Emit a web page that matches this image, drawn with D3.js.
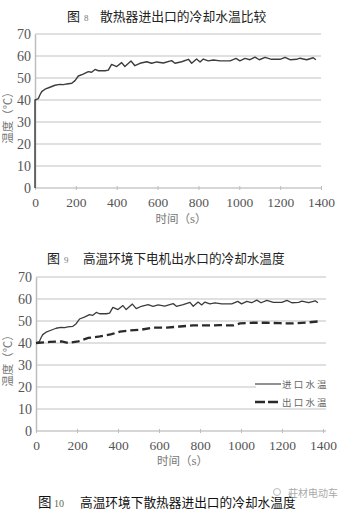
<!DOCTYPE html>
<html><head><meta charset="utf-8">
<script src="https://cdn.jsdelivr.net/npm/d3@7"></script>
<style>html,body{margin:0;padding:0;background:#fff;}svg{display:block;}
.serif{font-family:"Liberation Serif","Times New Roman",serif;}
.cjk{font-family:"Noto Sans CJK SC",sans-serif;}</style>
</head><body>
<svg id="c" width="350" height="510"></svg>
<script>
// ---- data ----
const xTicks = [0, 200, 400, 600, 800, 1000, 1200, 1400];
const yTicks = [0, 10, 20, 30, 40, 50, 60, 70];
const leadTime = [0];
const leadTemp = [0];
const inletTime = [0, 8, 16, 25, 33, 49, 73, 98, 122, 140, 155, 180, 196, 212, 236, 261, 277, 294, 310, 343, 359, 375, 400, 424, 440, 470, 489, 514, 547, 571, 596, 628, 669, 685, 718, 751, 767, 791, 808, 824, 848, 873, 906, 955, 984, 1003, 1028, 1052, 1077, 1098, 1126, 1158, 1199, 1224, 1248, 1281, 1297, 1330, 1362, 1375];
const inletTemp = [40, 40.3, 40.6, 42.5, 43.8, 44.9, 45.8, 46.7, 47.1, 47.0, 47.3, 47.6, 48.8, 50.9, 51.8, 52.9, 52.6, 53.9, 53.3, 53.3, 53.6, 56.2, 55.2, 57.0, 55.2, 57.7, 55.6, 56.7, 57.4, 56.7, 57.3, 56.8, 57.9, 56.7, 57.4, 58.5, 56.7, 58.6, 57.3, 58.6, 57.8, 58.2, 57.8, 57.8, 58.9, 57.8, 58.9, 58.3, 59.5, 58.3, 59.4, 58.5, 58.5, 59.4, 58.3, 58.5, 59.0, 58.3, 59.2, 58.3];
const outletTime = [0, 68, 125, 158, 206, 255, 312, 369, 410, 459, 516, 572, 637, 702, 767, 832, 898, 963, 995, 1060, 1125, 1190, 1255, 1320, 1377];
const outletTemp = [40, 40.5, 40.7, 40, 40.7, 42.3, 43, 44, 45.2, 45.7, 46.1, 47, 47, 47.5, 48, 48, 48.1, 48, 48.9, 49.2, 49.2, 49, 48.9, 49.3, 49.8];
const legendLabels = ["进口水温", "出口水温"];

const svg = d3.select("#c");
const zip = (t, v) => t.map((d, i) => [d, v[i]]);

function panel(box) {
  const x = d3.scaleLinear().domain([0, 1400]).range([box.l, box.r]);
  const y = d3.scaleLinear().domain([0, 70]).range([box.b, box.t]);
  const g = svg.append("g");
  g.append("g").selectAll("line").data(yTicks.filter(d => d > 0)).join("line")
    .attr("x1", box.l).attr("x2", box.r + box.ext)
    .attr("y1", d => y(d)).attr("y2", d => y(d))
    .attr("stroke", "#d6d6d6").attr("stroke-width", 1.6);
  const ya = g.append("g").attr("transform", `translate(${box.l},0)`)
    .call(d3.axisLeft(y).tickValues(yTicks).tickFormat(d3.format("d")).tickSize(0).tickPadding(4));
  ya.attr("font-family", null);
  ya.select(".domain").attr("stroke", "#bdbdbd").attr("stroke-width", 1.5);
  ya.selectAll("text").attr("class", "serif").style("font-size", "14px")
    .attr("fill", "#555").attr("dy", "0.34em");
  const xa = g.append("g").attr("transform", `translate(0,${box.b})`)
    .call(d3.axisBottom(x).tickValues(xTicks).tickFormat(d3.format("d")).tickSize(2).tickPadding(7));
  xa.attr("font-family", null);
  xa.select(".domain").attr("stroke", "#c8c8c8").attr("stroke-width", 1.5).attr("d", `M${box.l},0H${box.r + box.ext}`);
  xa.selectAll(".tick line").attr("stroke", "#bdbdbd").attr("y1", -2);
  xa.selectAll("text").attr("class", "serif").style("font-size", "13.5px")
    .attr("fill", "#555");
  const xt = g.append("text").attr("class", "cjk").attr("x", (box.l + box.r) / 2 + 3).attr("y", box.xt)
    .attr("text-anchor", "middle").attr("fill", "#777").style("font-size", "11.5px");
  xt.append("tspan").text("时间（");
  xt.append("tspan").attr("class", "serif").style("font-size", "13px").text("s");
  xt.append("tspan").text("）");
  g.append("text").attr("class", "cjk").attr("transform", `translate(${box.yx},${(box.t + box.b) / 2 + 4}) rotate(-90)`)
    .attr("text-anchor", "middle").attr("fill", "#777").style("font-size", "11.5px").text("温度（℃）");
  return { x, y, g };
}

function title(parts, yBase, color) {
  parts.forEach(p => {
    svg.append("text").attr("class", p.serif ? "serif" : "cjk").attr("x", p.x).attr("y", yBase)
      .style("font-size", p.size + "px").attr("fill", p.color || color).text(p.t);
  });
}

// ---- chart 1 ----
const p1 = panel({ l: 35, r: 321, t: 34, b: 188, ext: 0, xt: 223, yx: 12 });
const line1 = d3.line().x(d => p1.x(d[0])).y(d => p1.y(d[1]));
p1.g.append("path").datum(zip(leadTime, leadTemp).concat(zip(inletTime, inletTemp)))
  .attr("d", line1).attr("fill", "none").attr("stroke", "#3c3c3c").attr("stroke-width", 1.4)
  .attr("stroke-linejoin", "round");
title([
  { x: 67, t: "图", size: 13 },
  { x: 84, t: "8", size: 9, serif: true, color: "#777" },
  { x: 100, t: "散热器进出口的冷却水温比较", size: 12.8 }
], 21, "#222");

// ---- chart 2 ----
const p2 = panel({ l: 36, r: 323, t: 277, b: 431, ext: 3, xt: 465, yx: 12 });
const line2 = d3.line().x(d => p2.x(d[0])).y(d => p2.y(d[1]));
p2.g.append("path").datum(zip(inletTime, inletTemp))
  .attr("d", line2).attr("fill", "none").attr("stroke", "#3c3c3c").attr("stroke-width", 1.3)
  .attr("stroke-linejoin", "round");
p2.g.append("path").datum(zip(outletTime, outletTemp))
  .attr("d", line2).attr("fill", "none").attr("stroke", "#2a2a2a").attr("stroke-width", 2.3)
  .attr("stroke-dasharray", "8,4");
const lg = svg.append("g");
lg.append("rect").attr("x", 256).attr("y", 377).attr("width", 74).attr("height", 30).attr("fill", "#fff");
lg.append("line").attr("x1", 255).attr("x2", 281).attr("y1", 384).attr("y2", 384)
  .attr("stroke", "#555").attr("stroke-width", 1.3);
lg.append("line").attr("x1", 255).attr("x2", 281).attr("y1", 402).attr("y2", 402)
  .attr("stroke", "#2a2a2a").attr("stroke-width", 2.3).attr("stroke-dasharray", "10,3");
legendLabels.forEach((t, i) => {
  lg.append("text").attr("class", "cjk").attr("x", 282).attr("y", 388 + i * 18).style("font-size", "9.5px")
    .style("letter-spacing", "2.2px").attr("fill", "#666").text(t);
});
title([
  { x: 47, t: "图", size: 13 },
  { x: 64, t: "9", size: 9, serif: true, color: "#777" },
  { x: 83, t: "高温环境下电机出水口的冷却水温度", size: 12.6 }
], 263, "#222");

title([
  { x: 38, t: "图", size: 13.5 },
  { x: 54, t: "10", size: 10, serif: true, color: "#5a6a4a" },
  { x: 80, t: "高温环境下散热器进出口的冷却水温度", size: 12.7 }
], 507, "#111");
svg.append("circle").attr("cx", 277).attr("cy", 492).attr("r", 3.5).attr("fill", "none")
  .attr("stroke", "#bbb").attr("stroke-width", 1);
svg.append("text").attr("class", "cjk").attr("x", 288).attr("y", 497).style("font-size", "10px").attr("fill", "#aaa")
  .text("莊材电动车");
</script>
</body></html>
